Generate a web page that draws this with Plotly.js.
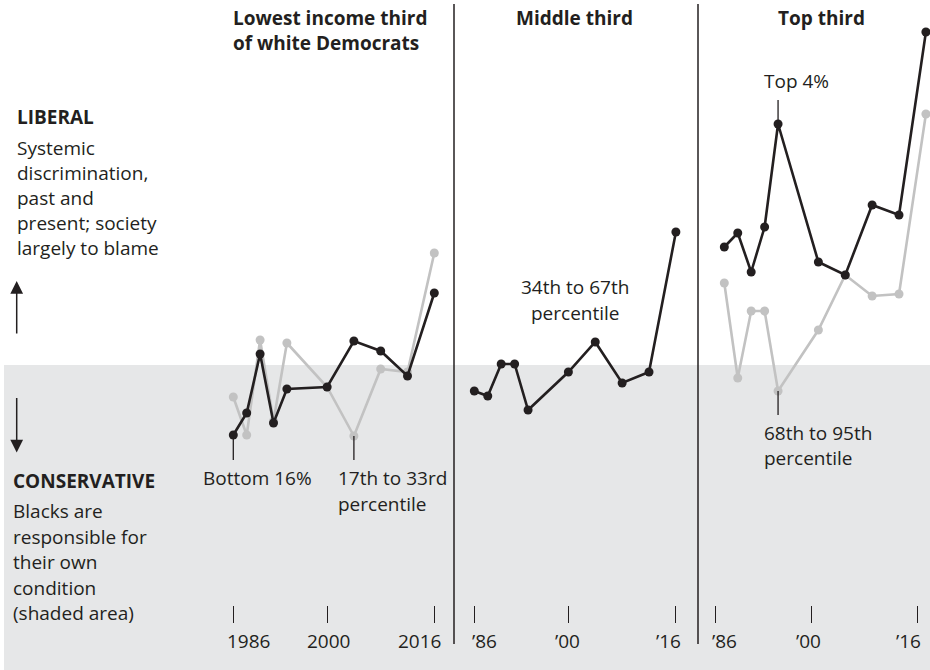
<!DOCTYPE html>
<html><head><meta charset="utf-8">
<script src="https://cdn.plot.ly/plotly-3.0.1.min.js"></script>
<style>html,body{margin:0;padding:0;background:#fff}#chart{width:930px;height:670px}</style>
</head><body><div id="chart"></div>
<script>
// ---- data (index: positive = more liberal, 0 = edge of shaded area) ----
const years = [1986,1988,1990,1992,1994,2000,2004,2008,2012,2016];
const lowBottom16   = [-0.70,-0.48,0.11,-0.58,-0.24,-0.22,0.24,0.14,-0.11,0.72];
const low17to33     = [-0.32,-0.70,0.25,-0.56,0.22,-0.22,-0.71,-0.04,-0.07,1.12];
const mid34to67     = [-0.26,-0.31,0.01,0.01,-0.45,-0.07,0.23,-0.18,-0.07,1.33];
const topTop4       = [1.18,1.32,0.93,1.38,2.41,1.03,0.90,1.60,1.50,3.33];
const top68to95     = [0.82,-0.13,0.54,0.54,-0.26,0.35,0.90,0.69,0.71,2.51];
const tickLabelsFull  = ['1986','2000','2016'];
const tickLabelsShort = ['\u201986','\u201900','\u201916'];
const panelTitles = ['<b>Lowest income third</b>','<b>of white Democrats</b>','<b>Middle third</b>','<b>Top third</b>'];
const liberalLines = ['Systemic','discrimination,','past and','present; society','largely to blame'];
const conservLines = ['Blacks are','responsible for','their own','condition','(shaded area)'];

// ---- layout helpers ----
const W=930, H=670;
const px = p => p/W, py = p => 1 - p/H;
const INK='#231f20', GRAY='#c2c2c2';
const FONT='Open Sans';
const fs=19;
function xr(pl, pr, p86, s){ return [1986+(pl-p86)/s, 1986+(pr-p86)/s]; }
const yRange=[(365-670)/100, 365/100];

function xax(dom, range, tickvals){
  return {domain:[px(dom[0]),px(dom[1])], range, anchor:'free', position:py(605),
    tickmode:'array', tickvals, showticklabels:false, ticks:'outside', ticklen:17,
    tickwidth:1.2, tickcolor:INK, showgrid:false, zeroline:false, showline:false, fixedrange:true};
}
function tr(xa, y, color){
  return {x:years, y, xaxis:xa, yaxis:'y', mode:'lines+markers', line:{color, width:2.6},
    marker:{color, size:9}, cliponaxis:false, hoverinfo:'skip', showlegend:false};
}
function txt(t, x, y, xanchor, bold, size){
  return {text: bold?'<b>'+t+'</b>':t, x:px(x), y:py(y), xref:'paper', yref:'paper',
    xanchor:xanchor||'left', yanchor:'middle', showarrow:false, borderpad:0,
    font:{family:FONT, size:size||fs, color:INK}};
}
function lines(arr, x, y0, dy, xanchor){ return arr.map((t,i)=>txt(t, x, y0+i*dy, xanchor)); }

const data = [
  tr('x', low17to33, GRAY), tr('x', lowBottom16, INK),
  tr('x2', mid34to67, INK),
  tr('x3', top68to95, GRAY), tr('x3', topTop4, INK)
];

const r1 = xr(200, 452, 233.3, 6.70);
const r2 = xr(457, 696, 474.3, 6.72);
const r3 = xr(700, 930, 724.3, 6.72);

const annotations = [
  txt(panelTitles[0], 232, 18, 'left', false, 19),
  txt(panelTitles[1], 232, 43, 'left', false, 19),
  txt(panelTitles[2], 574, 18, 'center', false, 19),
  txt(panelTitles[3], 821, 18, 'center', false, 19),
  txt('LIBERAL', 16, 117, 'left', true),
  ...lines(liberalLines, 16, 147.5, 25),
  txt('CONSERVATIVE', 12, 481, 'left', true),
  ...lines(conservLines, 12, 511, 25.5),
  txt('Bottom 16%', 257, 478, 'center'),
  ...lines(['17th to 33rd','percentile'], 337, 478, 25.5),
  ...lines(['34th to 67th','percentile'], 575, 287, 26, 'center'),
  txt('Top 4%', 796, 81, 'center'),
  ...lines(['68th to 95th','percentile'], 763, 433, 25),
  // tick labels
  txt(tickLabelsFull[0], 248, 641, 'center'),
  txt(tickLabelsFull[1], 328.7, 641, 'center'),
  txt(tickLabelsFull[2], 419, 641, 'center'),
  txt(tickLabelsShort[0], 484.5, 641, 'center'),
  txt(tickLabelsShort[1], 567.5, 641, 'center'),
  txt(tickLabelsShort[2], 668, 641, 'center'),
  txt(tickLabelsShort[0], 724, 641, 'center'),
  txt(tickLabelsShort[1], 808, 641, 'center'),
  txt(tickLabelsShort[2], 908, 641, 'center'),
  // arrows
  {x:px(16.7), y:py(281), xref:'paper', yref:'paper', ax:0, ay:54, text:'', showarrow:true,
   arrowhead:2, arrowsize:1.7, arrowwidth:1.5, arrowcolor:INK, standoff:0},
  {x:px(16.7), y:py(452.5), xref:'paper', yref:'paper', ax:0, ay:-56, text:'', showarrow:true,
   arrowhead:2, arrowsize:1.7, arrowwidth:1.5, arrowcolor:INK, standoff:0}
];

const vline = (xa, x, y0, y1) => ({type:'line', xref:xa, yref:'y', x0:x, x1:x, y0, y1, line:{color:INK, width:1.3}});
const shapes = [
  {type:'rect', xref:'paper', yref:'y', x0:px(4), x1:1, y0:yRange[0], y1:0, fillcolor:'#e6e7e8', line:{width:0}, layer:'below'},
  {type:'line', xref:'paper', yref:'paper', x0:px(454), x1:px(454), y0:py(644), y1:py(4), line:{color:INK, width:1.5}},
  {type:'line', xref:'paper', yref:'paper', x0:px(698), x1:px(698), y0:py(644), y1:py(4), line:{color:INK, width:1.5}},
  vline('x', 1986, lowBottom16[0], (365-460)/100),
  vline('x', 2004, low17to33[6], (365-460)/100),
  vline('x3', 1994, topTop4[4], (365-100)/100),
  vline('x3', 1994, top68to95[4], (365-415)/100)
];

const layout = {
  width:W, height:H, margin:{l:0,r:0,t:0,b:0}, paper_bgcolor:'#fff', plot_bgcolor:'rgba(0,0,0,0)',
  showlegend:false, font:{family:FONT, color:INK},
  xaxis: xax([200,452], r1, [1986,2000.06,2016]),
  xaxis2: xax([457,696], r2, [1986,2000,2015.94]),
  xaxis3: xax([700,930], r3, [1984.72,1998.98,2014.72]),
  yaxis: {domain:[0,1], range:yRange, visible:false, fixedrange:true},
  shapes, annotations
};
Plotly.newPlot('chart', data, layout, {staticPlot:true, displayModeBar:false});
</script></body></html>
